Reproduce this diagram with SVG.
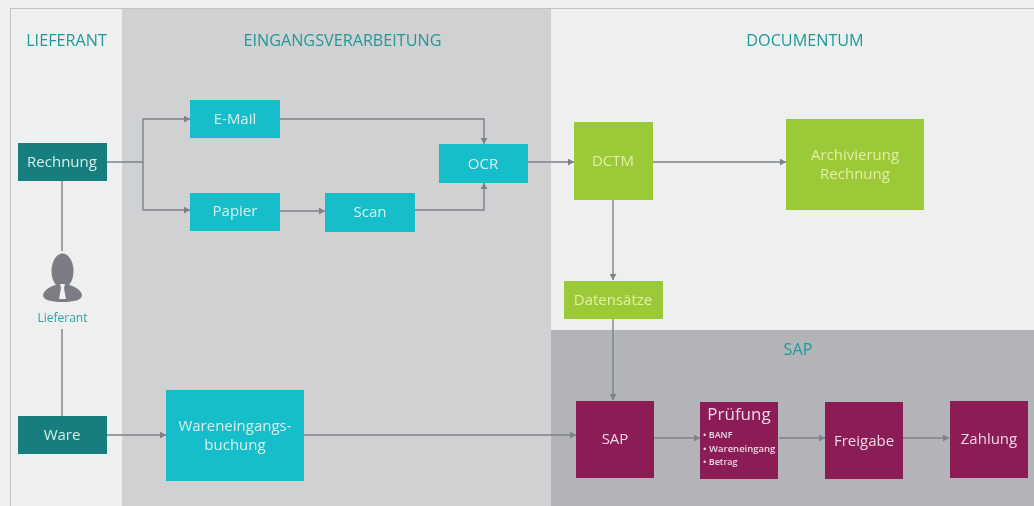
<svg xmlns="http://www.w3.org/2000/svg" width="1034" height="506" viewBox="0 0 1034 506">
<style>
text{font-family:"Open Sans","Noto Sans","Liberation Sans",sans-serif;text-anchor:middle}
.h{fill:#22989a;font-size:16.200px}
.l{fill:#d8efe9;font-size:15px}
.gl{fill:#e3efa6;font-size:15px}
.m{fill:#ecd9e4}
.c{fill:none;stroke:#7f8189;stroke-width:1.4}
.a{marker-end:url(#m)}
.t{fill:#18bdcb}.d{fill:#127e7e}.g{fill:#9cc937}.s{fill:#8b1a55}
</style>
<defs>
<marker id="m" viewBox="0 0 7 8" refX="7" refY="4" markerWidth="6" markerHeight="7" markerUnits="userSpaceOnUse" orient="auto"><path d="M0 0L7 4L0 8Z" fill="#7f8189"/></marker>
<filter id="b" x="0" y="0" width="100%" height="100%"><feGaussianBlur stdDeviation="0.55"/></filter>
</defs>
<g filter="url(#b)">
<rect width="1034" height="506" fill="#eeefef"/>
<g id="bands">
<rect x="10.500" y="8.500" width="1030" height="500" fill="#eef0f0" stroke="#c0c2c3"/>
<rect x="122" y="9" width="429" height="497" fill="#d0d1d3"/>
<rect x="551" y="330" width="483" height="176" fill="#b2b4b8"/>
<text class="h" x="66.500" y="46">LIEFERANT</text>
<text class="h" x="342.500" y="46">EINGANGSVERARBEITUNG</text>
<text class="h" x="805" y="46">DOCUMENTUM</text>
<text class="h" x="798" y="355">SAP</text>
</g>
<g id="connectors">
<path class="c" d="M62 181V251M62 329V416"/>
<path class="c a" d="M107 162H143V119H190"/>
<path class="c a" d="M143 162V210H190"/>
<path class="c a" d="M280 119H484V144"/>
<path class="c a" d="M280 211H325"/>
<path class="c a" d="M415 210H484V183"/>
<path class="c a" d="M528 162H574"/>
<path class="c a" d="M653 162H786"/>
<path class="c a" d="M613 200V280"/>
<path class="c a" d="M613 319V400"/>
<path class="c a" d="M107 435H166"/>
<path class="c a" d="M304 435H576"/>
<path class="c a" d="M654 438H700"/>
<path class="c a" d="M779 438H825"/>
<path class="c a" d="M903 438H949"/>
</g>
<g id="rechnung"><rect class="d" x="18" y="143" width="89" height="38"/><text class="l" x="62" y="167">Rechnung</text></g>
<g id="lieferant">
<ellipse cx="62.500" cy="271" rx="11" ry="17.500" fill="#7b7d84"/>
<path d="M43 295C44 289 53 285 62.500 283C72 285 81 289 82 295C82 300 74 302 62.500 302C51 302 43 300 43 295Z" fill="#7b7d84"/>
<path d="M60 284H65L64 288L66 299H59L61 288Z" fill="#f0f1f1"/>
<text x="62.500" y="322" fill="#2f9fa2" font-size="12">Lieferant</text>
</g>
<g id="ware"><rect class="d" x="18" y="416" width="89" height="38"/><text class="l" x="62" y="440">Ware</text></g>
<g id="email"><rect class="t" x="190" y="100" width="90" height="38"/><text class="l" x="235" y="124">E-Mail</text></g>
<g id="papier"><rect class="t" x="190" y="193" width="90" height="38"/><text class="l" x="235" y="216">Papier</text></g>
<g id="scan"><rect class="t" x="325" y="193" width="90" height="39"/><text class="l" x="370" y="217">Scan</text></g>
<g id="ocr"><rect class="t" x="439" y="144" width="89" height="39"/><text class="l" x="483" y="169">OCR</text></g>
<g id="wareneingang"><rect class="t" x="166" y="390" width="138" height="91"/><text class="l" x="235" y="431">Wareneingangs-</text><text class="l" x="235" y="450">buchung</text></g>
<g id="dctm"><rect class="g" x="574" y="122" width="79" height="78"/><text class="gl" x="613" y="166">DCTM</text></g>
<g id="archivierung"><rect class="g" x="786" y="119" width="138" height="91"/><text class="gl" x="855" y="160">Archivierung</text><text class="gl" x="855" y="179">Rechnung</text></g>
<g id="datensaetze"><rect class="g" x="564" y="281" width="99" height="38"/><text class="gl" x="613" y="305">Datensätze</text></g>
<g id="sap"><rect class="s" x="576" y="401" width="78" height="77"/><text class="l m" x="615" y="444">SAP</text></g>
<g id="pruefung"><rect class="s" x="700" y="402" width="78" height="77"/>
<text class="m" x="739" y="420" font-size="17">Prüfung</text>
<g class="m" font-size="9" font-weight="600">
<text x="703" y="438" style="text-anchor:start">• BANF</text>
<text x="703" y="452" style="text-anchor:start;font-size:9.500px">• Wareneingang</text>
<text x="703" y="465" style="text-anchor:start">• Betrag</text>
</g></g>
<g id="freigabe"><rect class="s" x="825" y="402" width="78" height="77"/><text class="l m" x="864" y="446">Freigabe</text></g>
<g id="zahlung"><rect class="s" x="950" y="401" width="78" height="77"/><text class="l m" x="989" y="444">Zahlung</text></g>
</g>
</svg>
